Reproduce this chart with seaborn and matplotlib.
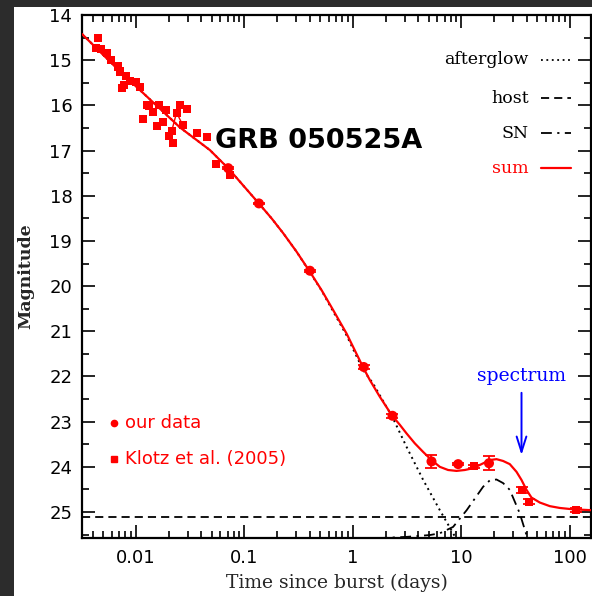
import numpy as np
import pandas as pd
import seaborn as sns
import matplotlib
matplotlib.use("Agg")
import matplotlib.pyplot as plt
from matplotlib.patches import Rectangle
from matplotlib.ticker import FixedLocator, FixedFormatter, MultipleLocator, NullFormatter

# ---------------- data ----------------
klotz_t = [0.00443, 0.00428, 0.00475, 0.00544, 0.00589, 0.00687, 0.00712, 0.00809,
           0.00743, 0.00775, 0.00881, 0.00993, 0.01088, 0.01168, 0.01254, 0.01327,
           0.01426, 0.01552, 0.0163, 0.01786, 0.01879, 0.02028, 0.02179, 0.02134,
           0.0237, 0.02545, 0.0269, 0.0297, 0.0362, 0.0449, 0.0543, 0.0735]
klotz_mag = [14.50, 14.74, 14.76, 14.85, 15.00, 15.14, 15.25, 15.36,
             15.62, 15.55, 15.46, 15.48, 15.59, 16.30, 15.99, 16.01,
             16.14, 16.46, 15.99, 16.36, 16.10, 16.68, 16.84, 16.57,
             16.16, 15.99, 16.43, 16.08, 16.62, 16.71, 17.30, 17.54]

our_t = [0.0709, 0.136, 0.402, 1.26, 2.32, 5.31, 9.35, 18.0]
our_mag = [17.39, 18.17, 19.66, 21.79, 22.87, 23.88, 23.94, 23.92]
our_err = [0.02, 0.02, 0.02, 0.05, 0.05, 0.15, 0.03, 0.16]

late_t = [13.0, 36.3, 41.9, 113.5]
late_mag = [23.99, 24.51, 24.77, 24.95]
late_err = [0.03, 0.06, 0.05, 0.05]

sum_t = [0.00318, 0.00713, 0.0255, 0.0481, 0.072, 0.137, 0.178, 0.228, 0.303, 0.396,
         0.515, 0.658, 0.875, 1.245, 1.435, 1.774, 2.274, 2.711, 3.126, 3.726, 4.446,
         5.313, 6.339, 7.553, 9.03, 10.77, 12.85, 15.36, 18.32, 21.10, 24.28, 27.99,
         32.28, 35.89, 39.91, 44.36, 52.94, 65.48, 80.9, 107.2, 159.5]
sum_mag = [14.42, 15.25, 16.49, 16.99, 17.41, 18.18, 18.50, 18.83, 19.24, 19.66,
           20.09, 20.53, 21.05, 21.80, 22.08, 22.45, 22.85, 23.07, 23.26, 23.48, 23.67,
           23.85, 24.00, 24.07, 24.09, 24.07, 24.03, 23.94, 23.85, 23.83, 23.87, 23.94,
           24.11, 24.29, 24.51, 24.68, 24.79, 24.87, 24.91, 24.94, 24.96]

ag_t = [0.00318, 0.00713, 0.0255, 0.0481, 0.072, 0.137, 0.178, 0.228, 0.303, 0.396,
        0.515, 0.658, 0.875, 1.245, 1.54, 2.35, 3.13, 4.45, 6.34, 8.40, 9.09]
ag_mag = [14.42, 15.25, 16.49, 16.99, 17.41, 18.18, 18.50, 18.83, 19.24, 19.67,
          20.10, 20.56, 21.09, 21.86, 22.16, 22.93, 23.56, 24.29, 24.96, 25.47, 25.62]

sn_t = [1.65, 3.13, 5.12, 6.34, 8.40, 11.2, 15.9, 18.3, 21.1, 24.3, 28.0, 34.6, 39.9, 41.3]
sn_mag = [25.58, 25.55, 25.51, 25.47, 25.33, 24.96, 24.44, 24.30, 24.28, 24.36,
          24.51, 25.03, 25.51, 25.62]

host_mag = 25.12

spectrum_day = 35.9
spectrum_arrow_mag = [22.30, 23.80]

x_ticks = [0.01, 0.1, 1, 10, 100]
x_ticklabels = ["0.01", "0.1", "1", "10", "100"]
y_ticks = list(range(14, 26))

# ---------------- figure ----------------
sns.set_style("ticks")
plt.rcParams["font.family"] = ["DejaVu Sans"]

RED = "#ff0000"
fig = plt.figure(figsize=(5.92, 5.96), dpi=100, facecolor="#2c2c2c")
fig.patches.append(Rectangle((14 / 592, 0), 1, 1 - 7 / 596, transform=fig.transFigure,
                             facecolor="white", edgecolor="none", zorder=-10))
ax = fig.add_axes([82 / 592, 1 - 538 / 596, (591 - 82) / 592, (538 - 15) / 596])
ax.set_facecolor("white")

# model curves
sns.lineplot(x=ag_t, y=ag_mag, sort=False, ax=ax, color="black",
             linestyle=(0, (1, 2)), lw=1.4, zorder=2)
sns.lineplot(x=sn_t, y=sn_mag, sort=False, ax=ax, color="black",
             linestyle=(0, (6, 3, 1.2, 3)), lw=1.3, zorder=2)
ax.axhline(host_mag, color="black", linestyle=(0, (4.5, 2.8)), lw=1.3, zorder=2)
sns.lineplot(x=sum_t, y=sum_mag, sort=False, ax=ax, color=RED, lw=1.6, zorder=3)

# small connecting red segment among Klotz points
zz = [23, 24, 26]
ax.plot([klotz_t[i] for i in zz], [klotz_mag[i] for i in zz], color=RED, lw=1.0, zorder=3)

# data points
df_k = pd.DataFrame({"t": klotz_t + late_t, "mag": klotz_mag + late_mag})
sns.scatterplot(data=df_k, x="t", y="mag", ax=ax, marker="s", s=34, color=RED,
                edgecolor="none", zorder=4, legend=False)
df_o = pd.DataFrame({"t": our_t, "mag": our_mag})
sns.scatterplot(data=df_o, x="t", y="mag", ax=ax, marker="o", s=52, color=RED,
                edgecolor="none", zorder=4, legend=False)
ax.errorbar(our_t, our_mag, yerr=our_err, fmt="none", ecolor=RED, elinewidth=1.3,
            capsize=4, capthick=1.3, zorder=4)
ax.errorbar(late_t, late_mag, yerr=late_err, fmt="none", ecolor=RED, elinewidth=1.3,
            capsize=4, capthick=1.3, zorder=4)

# axes
ax.set_xscale("log")
ax.set_xlim(0.00318, 157)
ax.set_ylim(25.575, 14)
ax.xaxis.set_major_locator(FixedLocator(x_ticks))
ax.xaxis.set_major_formatter(FixedFormatter(x_ticklabels))
minors = [m * 10.0 ** e for e in range(-3, 3) for m in range(2, 10)]
ax.xaxis.set_minor_locator(FixedLocator(minors))
ax.xaxis.set_minor_formatter(NullFormatter())
ax.yaxis.set_major_locator(FixedLocator(y_ticks))
ax.yaxis.set_major_formatter(FixedFormatter([str(v) for v in y_ticks]))
ax.yaxis.set_minor_locator(MultipleLocator(0.5))

ax.tick_params(which="both", direction="in", top=True, right=True, width=1.2,
               color="black", labelsize=13, labelcolor="black")
ax.tick_params(which="major", length=9.5)
ax.tick_params(which="minor", length=5)
ax.tick_params(axis="y", pad=7)
ax.tick_params(axis="x", pad=8)
for sp in ax.spines.values():
    sp.set_linewidth(1.6)
    sp.set_color("black")

ax.set_xlabel("Time since burst (days)", fontfamily="DejaVu Serif", fontsize=13.5,
              labelpad=5)
ax.set_ylabel("Magnitude", fontfamily="DejaVu Serif", fontsize=12.5,
              fontweight="bold", labelpad=11)

# title-like label
ax.text(0.261, 0.759, "GRB 050525A", transform=ax.transAxes, fontsize=19.5,
        fontweight="bold", ha="left", va="center", color="black")

# top-right key
key_rows = [("afterglow", "black", (0, (1, 2))),
            ("host", "black", (0, (4.5, 2.8))),
            ("SN", "black", (0, (6, 3, 1.2, 3))),
            ("sum", RED, "-")]
key_y = [0.914, 0.841, 0.774, 0.707]
for (lab, col, ls), yy in zip(key_rows, key_y):
    ax.text(0.878, yy, lab, transform=ax.transAxes, ha="right", va="center",
            fontfamily="DejaVu Serif", fontsize=12.5, color=col)
    ax.plot([0.901, 0.960], [yy, yy], transform=ax.transAxes, color=col,
            linestyle=ls, lw=1.3 if col == "black" else 1.6)

# bottom-left key
ax.plot([0.0635], [0.2205], transform=ax.transAxes, marker="o", ms=4.5, color=RED,
        linestyle="none")
ax.text(0.0845, 0.2205, "our data", transform=ax.transAxes, ha="left", va="center",
        fontsize=13, color=RED)
ax.plot([0.0635], [0.152], transform=ax.transAxes, marker="s", ms=4, color=RED,
        linestyle="none")
ax.text(0.0845, 0.152, "Klotz et al. (2005)", transform=ax.transAxes, ha="left",
        va="center", fontsize=13, color=RED)

# spectrum arrow
ax.annotate("", xy=(spectrum_day, spectrum_arrow_mag[1]),
            xytext=(spectrum_day, spectrum_arrow_mag[0]),
            arrowprops=dict(arrowstyle="->,head_length=1.1,head_width=0.35",
                            color="#0000ff", lw=1.4))
ax.text(spectrum_day, 21.98, "spectrum", ha="center", va="center",
        fontfamily="DejaVu Serif", fontsize=13.5, color="#0000ff")

fig.savefig("out.png", dpi=100, facecolor=fig.get_facecolor())
